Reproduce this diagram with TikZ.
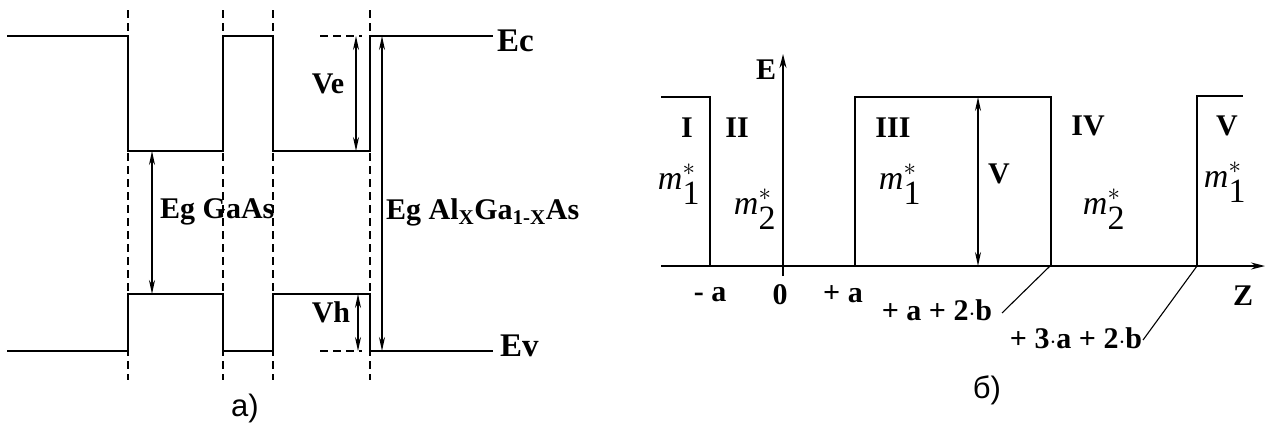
\documentclass[tikz,border=0pt]{standalone}
\usepackage{fontspec}
\setmainfont{Liberation Serif}
\newfontfamily\sansf{Liberation Sans}
\usetikzlibrary{arrows.meta}
\newcommand{\effm}[1]{$\textit{m}_{\textrm{#1}}^{\raisebox{5pt}{$\scriptstyle *$}}$}
\begin{document}
\begin{tikzpicture}[x=1pt,y=-1pt,
  band/.style={line width=1.6pt, line join=miter},
  guide/.style={line width=1.2pt, dash pattern=on 8pt off 5pt},
  dim/.style={line width=1.6pt,{Stealth[length=14pt,width=6pt]}-{Stealth[length=14pt,width=6pt]}},
  axis/.style={line width=1.6pt,-{Stealth[length=14pt,width=7pt]}},
  thin/.style={line width=1.1pt},
  lbl/.style={font=\fontsize{30}{32}\selectfont\bfseries, inner sep=0},
  mass/.style={font=\fontsize{34}{36}\selectfont, inner sep=0},
  captext/.style={font=\sansf\fontsize{31}{33}\selectfont, inner sep=0}]
\useasboundingbox (0,0) rectangle (1271,424);
% ---------- left diagram ----------
\foreach \x in {128,223,273,370} \draw[guide] (\x,10) -- (\x,380);
\draw[band] (7,36) -- (128,36) -- (128,151) -- (223,151) -- (223,36) -- (273,36) -- (273,151) -- (370,151) -- (370,36) -- (493,36);
\draw[band] (7,351) -- (128,351) -- (128,294) -- (223,294) -- (223,351) -- (273,351) -- (273,294) -- (370,294) -- (370,351) -- (493,351);
\draw[guide] (320,36) -- (362,36);
\draw[guide] (320,351) -- (362,351);
\coordinate (veT) at (356,36); \coordinate (veB) at (356,151);
\coordinate (egT) at (152,151); \coordinate (egB) at (152,294);
\coordinate (eaT) at (382,36); \coordinate (eaB) at (382,351);
\coordinate (vhT) at (358,294); \coordinate (vhB) at (358,351);
\draw[dim] (veT) -- (veB);
\draw[dim] (egT) -- (egB);
\draw[dim] (eaT) -- (eaB);
\draw[dim] (vhT) -- (vhB);
\node[lbl, font=\fontsize{33}{35}\selectfont\bfseries, anchor=west] (ec) at (497,41) {Ec};
\node[lbl, font=\fontsize{33}{35}\selectfont\bfseries, anchor=west] (ev) at (500,346) {Ev};
\node[lbl] (ve) at (328,84) {Ve};
\node[lbl] (vh) at (331,312) {Vh};
\node[lbl, anchor=west] (eggaas) at (160,212) {Eg GaAs};
\node[lbl, anchor=west] (egal) at (386,212) {Eg Al\textsubscript{X}Ga\textsubscript{1-X}As};
\node[captext] (capa) at (245,408) {a)};
% ---------- right diagram ----------
\coordinate (zS) at (661,266); \coordinate (zE) at (1265,266);
\coordinate (eS) at (783,276); \coordinate (eE) at (783,54);
\draw[axis] (zS) -- (zE);
\draw[axis] (eS) -- (eE);
\draw[band] (661,97) -- (710,97) -- (710,266);
\draw[band] (855,266) -- (855,97) -- (1051,97) -- (1051,266);
\draw[band] (1197,266) -- (1197,96) -- (1243,96);
\coordinate (vT) at (978,97); \coordinate (vB) at (978,266);
\draw[dim] (vT) -- (vB);
\coordinate (s1a) at (1002,313); \coordinate (s1b) at (1050,266);
\coordinate (s2a) at (1143,340); \coordinate (s2b) at (1197,266);
\draw[thin] (s1a) -- (s1b);
\draw[thin] (s2a) -- (s2b);
\node[lbl] (E) at (766,70) {E};
\node[lbl] (r1) at (687,128) {I};
\node[lbl] (r2) at (737,128) {II};
\node[lbl] (r3) at (893,128) {III};
\node[lbl] (r4) at (1088,126) {IV};
\node[lbl] (r5) at (1227,126) {V};
\node[lbl] (vlab) at (999,174) {V};
\node[mass] (m1a) at (679,184) {\effm{1}};
\node[mass] (m2a) at (755,209) {\effm{2}};
\node[mass] (m1b) at (900,184) {\effm{1}};
\node[mass] (m2b) at (1104,209) {\effm{2}};
\node[mass] (m1c) at (1225,182) {\effm{1}};
\node[lbl] (ma) at (710,295) {- a};
\node[lbl] (zero) at (780,295) {0};
\node[lbl] (pa) at (843,294) {+ a};
\node[lbl] (pab) at (937,310) {+ a + 2$\cdot$b};
\node[lbl] (p3ab) at (1076,338) {+ 3$\cdot$a + 2$\cdot$b};
\node[lbl] (Z) at (1243,296) {Z};
\node[captext] (capb) at (987,390) {б)};
\end{tikzpicture}
\end{document}
